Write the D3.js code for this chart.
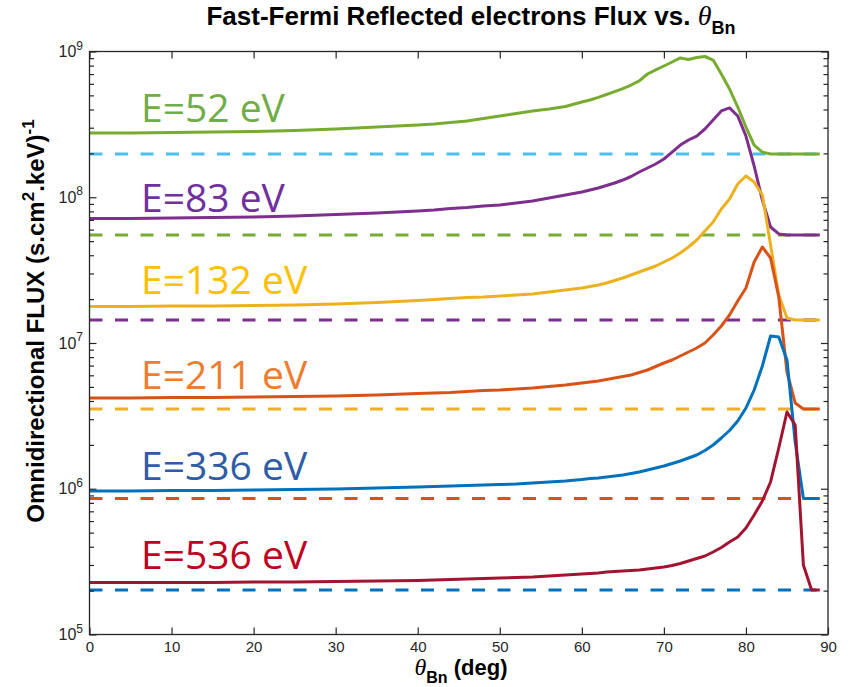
<!DOCTYPE html>
<html>
<head>
<meta charset="utf-8">
<script src="https://cdn.jsdelivr.net/npm/d3@7"></script>
<style>
  html, body { margin: 0; padding: 0; background: #fff; }
  svg { display: block; }
</style>
</head>
<body>
<svg id="chart" width="848" height="687"></svg>
<script>
// Pitch angle grid (deg)
const angles = [0,5,10,15,20,25,30,35,40,42,44,46,48,50,52,54,56,58,60,61,62,63,64,65,66,67,68,69,70,71,72,73,74,75,76,77,78,79,80,81,82,83,84,85,86,87,88,89];

// Omnidirectional flux, (s.cm^2.keV)^-1, per energy channel
const flux52 = [2.76e8,2.76e8,2.78e8,2.80e8,2.83e8,2.87e8,2.94e8,3.03e8,3.13e8,3.18e8,3.26e8,3.34e8,3.47e8,3.61e8,3.75e8,3.91e8,4.03e8,4.19e8,4.50e8,4.65e8,4.84e8,5.07e8,5.31e8,5.57e8,5.89e8,6.28e8,7.01e8,7.47e8,7.95e8,8.47e8,9.03e8,8.81e8,9.10e8,9.24e8,8.74e8,7.01e8,5.53e8,4.16e8,3.03e8,2.28e8,2.04e8,1.98e8,1.98e8,1.98e8,1.98e8,1.98e8,1.98e8,1.98e8];
const flux83 = [7.15e7,7.15e7,7.20e7,7.26e7,7.32e7,7.44e7,7.61e7,7.80e7,8.05e7,8.18e7,8.37e7,8.51e7,8.71e7,8.85e7,9.13e7,9.42e7,9.88e7,1.036e8,1.086e8,1.121e8,1.157e8,1.204e8,1.252e8,1.313e8,1.388e8,1.49e8,1.587e8,1.691e8,1.83e8,2.04e8,2.28e8,2.47e8,2.63e8,2.94e8,3.39e8,3.91e8,4.10e8,3.61e8,2.63e8,1.638e8,9.57e7,6.25e7,5.60e7,5.51e7,5.51e7,5.51e7,5.51e7,5.51e7];
const flux132 = [1.78e7,1.78e7,1.795e7,1.795e7,1.809e7,1.823e7,1.852e7,1.897e7,1.957e7,1.988e7,2.02e7,2.052e7,2.068e7,2.101e7,2.134e7,2.169e7,2.238e7,2.31e7,2.384e7,2.441e7,2.5e7,2.58e7,2.684e7,2.793e7,2.928e7,3.07e7,3.219e7,3.376e7,3.595e7,3.83e7,4.144e7,4.557e7,5.09e7,5.87e7,6.77e7,8.31e7,9.72e7,1.233e8,1.399e8,1.273e8,1.036e8,4.70e7,2.134e7,1.484e7,1.438e7,1.438e7,1.438e7,1.438e7];
const flux211 = [4.194e6,4.194e6,4.228e6,4.228e6,4.261e6,4.295e6,4.329e6,4.398e6,4.503e6,4.539e6,4.575e6,4.647e6,4.722e6,4.759e6,4.835e6,4.911e6,5.029e6,5.15e6,5.316e6,5.4e6,5.487e6,5.618e6,5.753e6,5.891e6,6.031e6,6.275e6,6.528e6,6.899e6,7.291e6,7.645e6,8.143e6,8.675e6,9.24e6,1.0e7,1.135e7,1.308e7,1.556e7,1.942e7,2.384e7,3.595e7,4.557e7,3.83e7,2.068e7,6.324e6,3.876e6,3.526e6,3.526e6,3.526e6];
const flux336 = [9.65e5,9.65e5,9.72e5,9.72e5,9.80e5,9.88e5,9.96e5,1.012e6,1.028e6,1.036e6,1.044e6,1.053e6,1.061e6,1.07e6,1.078e6,1.095e6,1.113e6,1.13e6,1.157e6,1.176e6,1.185e6,1.204e6,1.223e6,1.243e6,1.273e6,1.302e6,1.345e6,1.388e6,1.432e6,1.49e6,1.55e6,1.626e6,1.705e6,1.83e6,1.996e6,2.229e6,2.51e6,2.916e6,3.581e6,4.759e6,6.953e6,1.117e7,1.099e7,7.645e6,2.093e6,8.57e5,8.57e5,8.57e5];
const flux536 = [2.274e5,2.274e5,2.274e5,2.274e5,2.292e5,2.292e5,2.31e5,2.329e5,2.347e5,2.366e5,2.385e5,2.404e5,2.423e5,2.442e5,2.461e5,2.481e5,2.52e5,2.56e5,2.601e5,2.621e5,2.642e5,2.684e5,2.705e5,2.727e5,2.748e5,2.77e5,2.814e5,2.86e5,2.905e5,2.975e5,3.07e5,3.194e5,3.322e5,3.456e5,3.681e5,3.953e5,4.312e5,4.667e5,5.379e5,6.605e5,8.24e5,1.113e6,1.904e6,3.362e6,2.737e6,2.998e5,2.02e5,2.02e5];

// Background (dashed) levels
const backgroundLevels = [1.98e8, 5.51e7, 1.44e7, 3.53e6, 8.57e5, 2.02e5];

const energyLabels = ["E=52 eV", "E=83 eV", "E=132 eV", "E=211 eV", "E=336 eV", "E=536 eV"];
const xTicks = [0,10,20,30,40,50,60,70,80,90];
const yDecades = [1e5,1e6,1e7,1e8,1e9];

// ---- styling / layout ----
const seriesList = [flux52, flux83, flux132, flux211, flux336, flux536];
const lineColors = ["#77AC30", "#7E2F8E", "#EDB120", "#D95319", "#0072BD", "#A2142F"];
const dashColors = ["#4DBEEE", "#77AC30", "#7E2F8E", "#EDB120", "#D95319", "#0072BD"];
const labelColors = ["#70AD47", "#7030A0", "#FFC000", "#ED7D31", "#2F5CA5", "#C00020"];
const labelBaselines = [122, 212, 294, 389, 480, 569];
const labelX = 141;

const plot = { left: 89.5, right: 828, top: 51.5, bottom: 634.5 };
const axisColor = "#262626";
const tickFont = "'Liberation Sans', Helvetica, Arial, sans-serif";

const svg = d3.select("#chart");

const x = d3.scaleLinear().domain([0, 90]).range([plot.left, plot.right]);
const y = d3.scaleLog().domain([1e5, 1e9]).range([plot.bottom, plot.top]);

const minorTicks = [];
for (let d = 5; d < 9; d++) for (let k = 2; k <= 9; k++) minorTicks.push(k * Math.pow(10, d));

// background levels (dashed)
const gDash = svg.append("g");
backgroundLevels.forEach((lvl, i) => {
  gDash.append("path")
    .datum([[0, lvl], [89, lvl]])
    .attr("d", d3.line().x(d => x(d[0])).y(d => y(d[1])))
    .attr("fill", "none")
    .attr("stroke", dashColors[i])
    .attr("stroke-width", 3)
    .attr("stroke-dasharray", "13,12.5");
});

// flux curves
const line = d3.line().x(d => x(d[0])).y(d => y(d[1]));
const gLines = svg.append("g");
seriesList.forEach((vals, i) => {
  gLines.append("path")
    .datum(angles.map((a, j) => [a, vals[j]]))
    .attr("d", line)
    .attr("fill", "none")
    .attr("stroke", lineColors[i])
    .attr("stroke-width", 3)
    .attr("stroke-linejoin", "round");
});

// axes
function styleAxis(g) {
  g.select(".domain").remove();
  g.selectAll(".tick line").attr("stroke", axisColor).attr("stroke-width", 1.2);
  g.selectAll(".tick text").attr("fill", axisColor).attr("font-family", tickFont);
}

svg.append("g")
  .attr("transform", `translate(0,${plot.bottom})`)
  .call(d3.axisBottom(x).tickValues(xTicks).tickSizeInner(-7).tickSizeOuter(0).tickPadding(7))
  .call(styleAxis)
  .call(g => g.selectAll(".tick text").attr("font-size", 15));

svg.append("g")
  .attr("transform", `translate(0,${plot.top})`)
  .call(d3.axisTop(x).tickValues(xTicks).tickSizeInner(-7).tickSizeOuter(0).tickFormat(""))
  .call(styleAxis);

svg.append("g")
  .attr("transform", `translate(${plot.left},0)`)
  .call(d3.axisLeft(y).tickValues(yDecades).tickSizeInner(-7).tickSizeOuter(0).tickPadding(6.5))
  .call(styleAxis)
  .call(g => g.selectAll(".tick text").each(function(d) {
    const t = d3.select(this).attr("font-size", 16).attr("dy", "0.32em");
    t.text(null);
    t.append("tspan").text("10");
    t.append("tspan").attr("font-size", 12).attr("dy", "-0.62em").text(Math.round(Math.log10(d)));
  }));

svg.append("g")
  .attr("transform", `translate(${plot.left},0)`)
  .call(d3.axisLeft(y).tickValues(minorTicks).tickSizeInner(-4.5).tickSizeOuter(0).tickFormat(""))
  .call(styleAxis);

svg.append("g")
  .attr("transform", `translate(${plot.right},0)`)
  .call(d3.axisRight(y).tickValues(yDecades).tickSizeInner(-7).tickSizeOuter(0).tickFormat(""))
  .call(styleAxis);

svg.append("g")
  .attr("transform", `translate(${plot.right},0)`)
  .call(d3.axisRight(y).tickValues(minorTicks).tickSizeInner(-4.5).tickSizeOuter(0).tickFormat(""))
  .call(styleAxis);

// frame
svg.append("rect")
  .attr("x", plot.left).attr("y", plot.top)
  .attr("width", plot.right - plot.left).attr("height", plot.bottom - plot.top)
  .attr("fill", "none").attr("stroke", axisColor).attr("stroke-width", 1.3);

// energy labels
energyLabels.forEach((txt, i) => {
  svg.append("text")
    .attr("x", labelX).attr("y", labelBaselines[i])
    .attr("font-family", "'Open Sans', 'Noto Sans', sans-serif")
    .attr("font-size", 39)
    .attr("fill", labelColors[i])
    .text(txt);
});

// title
const title = svg.append("text")
  .attr("x", 471).attr("y", 25)
  .attr("text-anchor", "middle")
  .attr("font-family", tickFont)
  .attr("font-weight", "bold")
  .attr("font-size", 26)
  .attr("fill", "#000");
title.append("tspan").text("Fast-Fermi Reflected electrons Flux vs. ");
title.append("tspan").attr("font-family", "'Liberation Serif', 'DejaVu Serif', serif").attr("font-style", "italic").attr("font-weight", "normal").attr("font-size", 28).text("\u03B8");
title.append("tspan").attr("font-size", 18).attr("dy", 9).text("Bn");

// x axis label
const xl = svg.append("text")
  .attr("x", 461).attr("y", 675)
  .attr("text-anchor", "middle")
  .attr("font-family", tickFont)
  .attr("font-weight", "bold")
  .attr("font-size", 22)
  .attr("fill", "#000");
xl.append("tspan").attr("font-family", "'Liberation Serif', 'DejaVu Serif', serif").attr("font-style", "italic").attr("font-weight", "normal").attr("font-size", 24).text("\u03B8");
xl.append("tspan").attr("font-size", 16).attr("dy", 8).text("Bn");
xl.append("tspan").attr("dy", -8).text(" (deg)");

// y axis label
const yl = svg.append("text")
  .attr("transform", "translate(44,321) rotate(-90)")
  .attr("text-anchor", "middle")
  .attr("font-family", tickFont)
  .attr("font-weight", "bold")
  .attr("font-size", 24)
  .attr("fill", "#000");
yl.append("tspan").text("Omnidirectional FLUX (s.cm");
yl.append("tspan").attr("font-size", 17).attr("dy", -10).text("2");
yl.append("tspan").attr("dy", 10).text(".keV)");
yl.append("tspan").attr("font-size", 17).attr("dy", -10).text("-1");
</script>
</body>
</html>
